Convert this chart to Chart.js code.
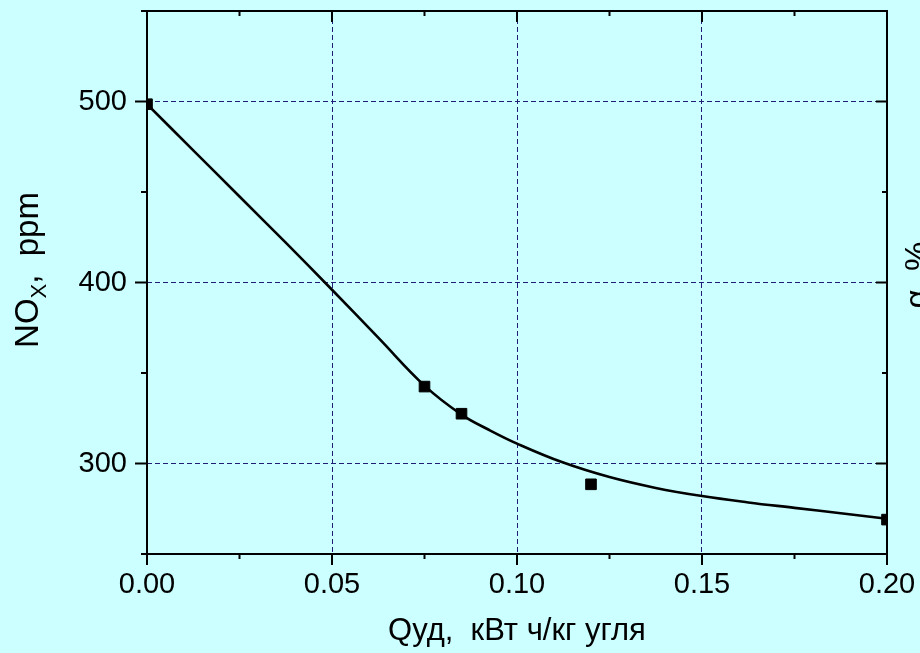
<!DOCTYPE html>
<html>
<head>
<meta charset="utf-8">
<script src="https://cdn.jsdelivr.net/npm/chart.js@4.4.0/dist/chart.umd.min.js"></script>
<style>
  html, body { margin: 0; padding: 0; background: #ccffff; overflow: hidden; }
  canvas { display: block; }
</style>
</head>
<body>
<canvas id="myChart" width="920" height="653"></canvas>
<script>
// measured points
const qPoints = [0, 0.075, 0.085, 0.12, 0.2]
const noxPoints = [498.5, 342.5, 327.5, 288.5, 269]
// fitted curve
const qCurve = [0, 0.0125, 0.025, 0.0375, 0.05, 0.0625, 0.075, 0.085, 0.0925, 0.1, 0.1125, 0.125, 0.1375, 0.15, 0.1625, 0.175, 0.1875, 0.2]
const noxCurve = [498.5, 473, 447.5, 422, 396, 369.5, 343, 327, 318.5, 311, 300.5, 292.5, 286.5, 282, 278.5, 275.5, 272.5, 269.5]
// ticks
const xTicks = [0, 0.05, 0.1, 0.15, 0.2]
const xMinor = [0.025, 0.075, 0.125, 0.175]
const yTicks = [300, 400, 500]
const yMinor = [250, 350, 450, 550]

const fam = '"Liberation Sans", Arial, sans-serif'

const frame = {
  id: 'frame',
  beforeDraw(chart) {
    const ctx = chart.ctx
    ctx.save()
    ctx.fillStyle = '#ccffff'
    ctx.fillRect(0, 0, chart.width, chart.height)
    ctx.restore()
  },
  afterDraw(chart) {
    const ctx = chart.ctx
    const a = chart.chartArea
    const xs = chart.scales.x
    const ys = chart.scales.y
    ctx.save()
    ctx.strokeStyle = '#000'
    ctx.lineWidth = 2
    ctx.strokeRect(a.left, a.top, a.right - a.left, a.bottom - a.top)
    ctx.beginPath()
    xTicks.forEach(v => {
      const p = xs.getPixelForValue(v)
      ctx.moveTo(p, a.bottom); ctx.lineTo(p, a.bottom + 11)
      ctx.moveTo(p, a.top); ctx.lineTo(p, a.top + 11)
    })
    xMinor.forEach(v => {
      const p = xs.getPixelForValue(v)
      ctx.moveTo(p, a.bottom); ctx.lineTo(p, a.bottom + 5)
      ctx.moveTo(p, a.top); ctx.lineTo(p, a.top + 5)
    })
    yTicks.forEach(v => {
      const p = ys.getPixelForValue(v)
      ctx.moveTo(a.left - 12, p); ctx.lineTo(a.left, p)
      ctx.moveTo(a.right - 11, p); ctx.lineTo(a.right, p)
    })
    yMinor.forEach(v => {
      const p = ys.getPixelForValue(v)
      ctx.moveTo(a.left - 6, p); ctx.lineTo(a.left, p)
      ctx.moveTo(a.right - 5, p); ctx.lineTo(a.right, p)
    })
    ctx.stroke()

    // y title with subscript
    ctx.fillStyle = '#000'
    ctx.textBaseline = 'alphabetic'
    ctx.textAlign = 'left'
    ctx.save()
    ctx.translate(38, 270)
    ctx.rotate(-Math.PI / 2)
    ctx.font = '33px ' + fam
    const w1 = ctx.measureText('NO').width
    const w3 = ctx.measureText(',  ppm').width
    ctx.font = '22px ' + fam
    const w2 = ctx.measureText('X').width
    let x0 = -(w1 + w2 + w3) / 2
    ctx.font = '33px ' + fam
    ctx.fillText('NO', x0, 0)
    ctx.font = '22px ' + fam
    ctx.fillText('X', x0 + w1, 8)
    ctx.font = '33px ' + fam
    ctx.fillText(',  ppm', x0 + w1 + w2, 0)
    ctx.restore()

    // right title, cut by the edge
    ctx.save()
    ctx.translate(928, 275)
    ctx.rotate(-Math.PI / 2)
    ctx.font = '33px ' + fam
    ctx.textAlign = 'center'
    ctx.fillText('α, %', 0, 0)
    ctx.restore()
    ctx.restore()
  }
}

const ctx = document.getElementById('myChart').getContext('2d')
const myChart = new Chart(ctx, {
  type: 'scatter',
  data: {
    datasets: [{
      data: qCurve.map((q, i) => ({ x: q, y: noxCurve[i] })),
      showLine: true,
      borderColor: '#000',
      borderWidth: 2.6,
      pointRadius: 0,
      tension: 0.4,
      clip: 0
    }, {
      data: qPoints.map((q, i) => ({ x: q, y: noxPoints[i] })),
      pointStyle: 'rect',
      pointRadius: 7.5,
      backgroundColor: '#000',
      borderColor: '#000',
      borderWidth: 1,
      clip: 0
    }]
  },
  options: {
    responsive: false,
    animation: false,
    layout: { padding: { top: 11, right: 33, bottom: 0, left: 0 } },
    plugins: { legend: { display: false }, tooltip: { enabled: false } },
    scales: {
      x: {
        type: 'linear',
        min: 0,
        max: 0.2,
        afterBuildTicks: s => { s.ticks = xTicks.map(v => ({ value: v })) },
        afterFit: s => { s.height = 99; s.paddingLeft = 0; s.paddingRight = 0 },
        ticks: {
          callback: v => v.toFixed(2),
          font: { family: fam, size: 29 },
          color: '#000',
          padding: 14,
          maxRotation: 0,
          autoSkip: false
        },
        grid: { color: '#1f1f7a', lineWidth: 1, drawTicks: false },
        border: { display: false, dash: [5, 3] },
        title: {
          display: true,
          text: 'Qуд,  кВт ч/кг угля',
          font: { family: fam, size: 31 },
          color: '#000',
          padding: { top: 0, bottom: 3 }
        }
      },
      y: {
        type: 'linear',
        min: 250,
        max: 550,
        afterBuildTicks: s => { s.ticks = yTicks.map(v => ({ value: v })) },
        afterFit: s => { s.width = 147; s.paddingTop = 0; s.paddingBottom = 0 },
        ticks: {
          font: { family: fam, size: 29 },
          color: '#000',
          padding: 20,
          autoSkip: false
        },
        grid: { color: '#1f1f7a', lineWidth: 1, drawTicks: false },
        border: { display: false, dash: [5, 3] }
      }
    }
  },
  plugins: [frame]
})
</script>
</body>
</html>
